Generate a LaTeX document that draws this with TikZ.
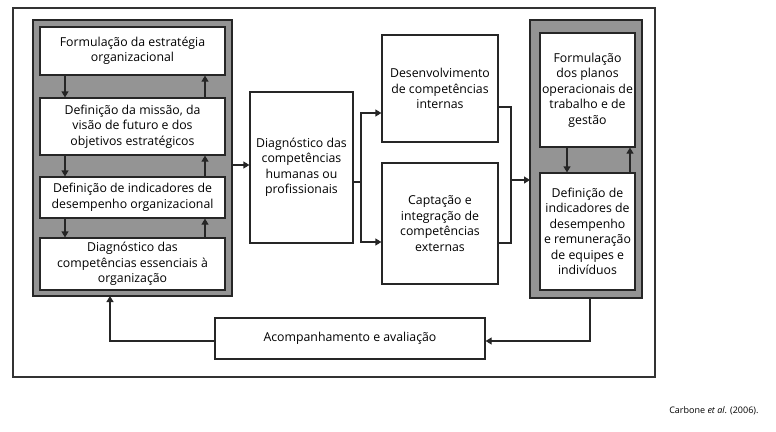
\documentclass[tikz,border=0pt]{standalone}
\usepackage{fontspec}
\setmainfont{Open Sans}
\usetikzlibrary{arrows.meta}
\begin{document}
\begin{tikzpicture}[x=1pt,y=-1pt,
  box/.style={draw=black!85,line width=1.2pt,fill=white,align=center,font=\fontsize{12.3}{15.5}\selectfont,inner sep=1pt},
  pan/.style={draw=black!85,line width=1.5pt,fill=black!42},
  ar/.style={line width=1.2pt,draw=black!85,-{Triangle[length=6pt,width=7pt]}},
  ln/.style={line width=1.2pt,draw=black!85}]
\useasboundingbox (0,0) rectangle (776,431);
\draw[line width=1.5pt,draw=black!80] (13,8) rectangle (655,377);
\draw[pan] (33,20) rectangle (232,296);
\draw[pan] (530,20) rectangle (642,298);
\node[box,minimum width=185,minimum height=48] (b1) at (132.5,51) {Formulação da estratégia\\organizacional};
\node[box,minimum width=185,minimum height=57] (b2) at (132.5,126.5) {Definição da missão, da\\visão de futuro e dos\\objetivos estratégicos};
\node[box,minimum width=185,minimum height=41] (b3) at (132.5,197.5) {Definição de indicadores de\\desempenho organizacional};
\node[box,minimum width=185,minimum height=52] (b4) at (132.5,264) {Diagnóstico das\\competências essenciais à\\organização};
\node[box,minimum width=103,minimum height=151] (m) at (301.5,167.5) {Diagnóstico das\\competências\\humanas ou\\profissionais};
\node[box,minimum width=116,minimum height=107] (d) at (440,88.5) {Desenvolvimento\\de competências\\internas};
\node[box,minimum width=116,minimum height=121] (c) at (440,223.5) {Captação e\\integração de\\competências\\externas};
\node[box,minimum width=95,minimum height=114] (r1) at (587.5,90) {Formulação\\dos planos\\operacionais de\\trabalho e de\\gestão};
\node[box,minimum width=95,minimum height=117] (r2) at (587.5,231.5) {Definição de\\indicadores de\\desempenho\\e remuneração\\de equipes e\\indivíduos};
\node[box,minimum width=270,minimum height=41] (a) at (350,338.5) {Acompanhamento e avaliação};
\node[font=\fontsize{9}{10}\selectfont,anchor=east] (cap) at (762,411) {Carbone \textit{et al}. (2006).};
\foreach \u/\l in {b1/b2,b2/b3,b3/b4}{
  \draw[ar] (\u.south -| 65,0) -- (\l.north -| 65,0);
  \draw[ar] (\l.north -| 205,0) -- (\u.south -| 205,0);}
\draw[ar] (r1.south -| 567,0) -- (r2.north -| 567,0);
\draw[ar] (r2.north -| 630,0) -- (r1.south -| 630,0);
\draw[ar] (232,165) -- (m.west |- 0,165);
\coordinate (j) at (361,182);
\draw[ln] (m.east |- j) -- (j);
\draw[ar] (361,182) -- (361,113) -- (d.west |- 0,113);
\draw[ar] (361,182) -- (361,242) -- (c.west |- 0,242);
\draw[ln] (d.east |- 0,107) -- (511,107) -- (511,243) -- (c.east |- 0,243);
\draw[ar] (511,180) -- (530,180);
\draw[ar] (590,298) -- (590,341) -- (a.east |- 0,341);
\draw[ar] (a.west |- 0,341) -- (110,341) -- (110,296);
\end{tikzpicture}
\end{document}
